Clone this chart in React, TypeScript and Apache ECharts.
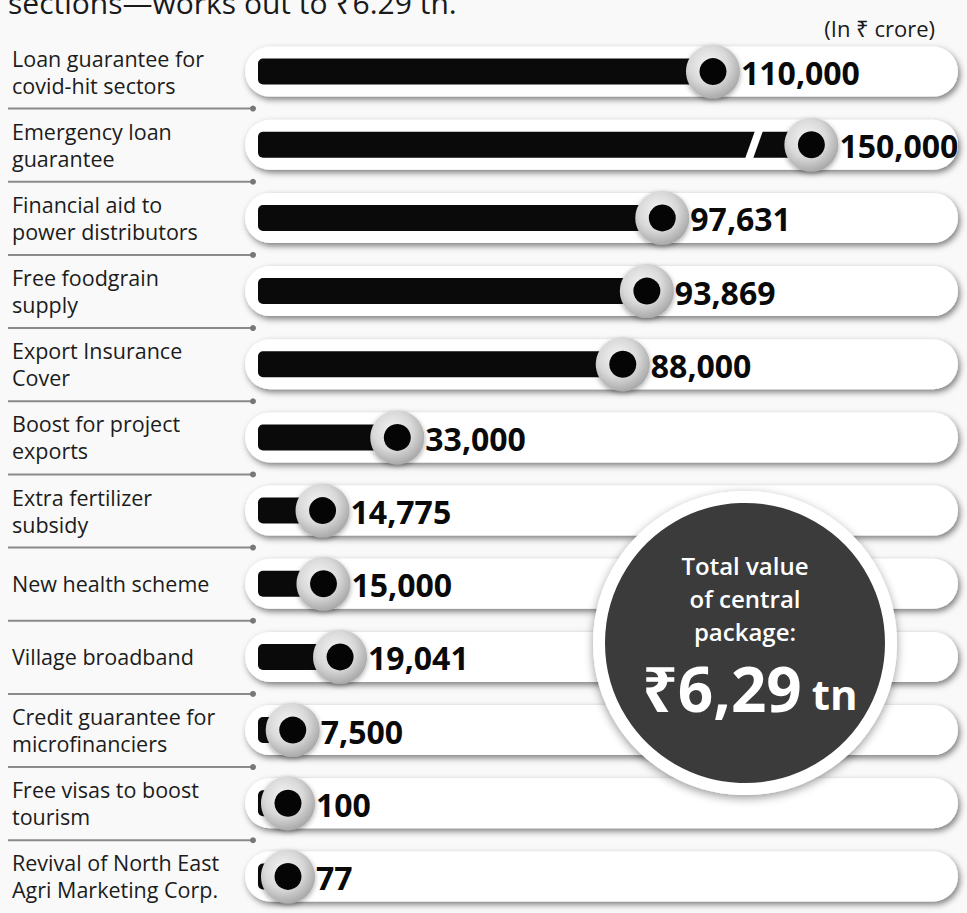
import React, { useEffect, useRef } from "react";
import * as echarts from "echarts";

const categories = [
  "Loan guarantee for\ncovid-hit sectors",
  "Emergency loan\nguarantee",
  "Financial aid to\npower distributors",
  "Free foodgrain\nsupply",
  "Export Insurance\nCover",
  "Boost for project\nexports",
  "Extra fertilizer\nsubsidy",
  "New health scheme",
  "Village broadband",
  "Credit guarantee for\nmicrofinanciers",
  "Free visas to boost\ntourism",
  "Revival of North East\nAgri Marketing Corp.",
];
const values = [110000, 150000, 97631, 93869, 88000, 33000, 14775, 15000, 19041, 7500, 100, 77];
const axisBreak = { start: 120000, end: 136000 };
const titleText = "sections\u2014works out to \u20b96.29 tn.";
const unitText = "(In \u20b9 crore)";
const totalLines = ["Total value", "of central", "package:"];
const totalValue = "\u20b96,29";
const totalUnit = "tn";

const FONT = '"Open Sans", "Noto Sans", sans-serif';

export default function App() {
  const ref = useRef<HTMLDivElement>(null);
  useEffect(() => {
    if (!ref.current) return;
    const chart = echarts.init(ref.current, null, { renderer: "svg" });
    const n = categories.length;
    const Z = 100;
    const option: any = {
      animation: false,
      backgroundColor: "#f9f9f9",
      grid: { left: 262, top: 35, width: 697, height: 888 },
      xAxis: { type: "value", min: 0, max: 170000, show: false },
      yAxis: {
        type: "category",
        data: categories,
        inverse: true,
        axisLine: { show: false },
        axisTick: { show: false },
        splitLine: { show: false },
        axisLabel: {
          align: "left",
          margin: 250,
          fontSize: 21.5,
          lineHeight: 27,
          color: "#1c1c1c",
          fontFamily: FONT,
        },
      },
      series: [
        {
          type: "custom",
          z: 2,
          encode: { x: 0, y: 1 },
          data: values.map((v, i) => [v, i]),
          renderItem: (params: any, api: any) => {
            const v = api.value(0);
            const i = api.value(1);
            const [x0, cy] = api.coord([0, i]);
            const dv = v > axisBreak.end ? v - (axisBreak.end - axisBreak.start) : v;
            const [kx] = api.coord([dv, i]);
            const barLeft = x0 - 4;
            const knobX = Math.max(kx, barLeft + 30);
            const pillLeft = barLeft - 13;
            const pillRight = 958;
            const children: any[] = [
              {
                type: "rect",
                shape: { x: pillLeft, y: cy - 25, width: pillRight - pillLeft, height: 50, r: 25 },
                style: {
                  fill: "#ffffff",
                  shadowBlur: 6,
                  shadowColor: "rgba(0,0,0,0.5)",
                  shadowOffsetX: 2,
                  shadowOffsetY: 3,
                },
              },
              {
                type: "rect",
                shape: { x: barLeft, y: cy - 13, width: knobX - barLeft, height: 26, r: [5, 0, 0, 5] },
                style: { fill: "#0a0a0a" },
              },
            ];
            if (v > axisBreak.end) {
              const [sx] = api.coord([axisBreak.start, i]);
              children.push({
                type: "polygon",
                shape: {
                  points: [
                    [sx + 1, cy - 14],
                    [sx + 9, cy - 14],
                    [sx - 1, cy + 14],
                    [sx - 9, cy + 14],
                  ],
                },
                style: { fill: "#ffffff" },
              });
            }
            children.push(
              {
                type: "circle",
                shape: { cx: knobX, cy, r: 27 },
                style: {
                  fill: new echarts.graphic.RadialGradient(0.42, 0.38, 0.65, [
                    { offset: 0, color: "#f5f5f5" },
                    { offset: 0.55, color: "#d9d9d9" },
                    { offset: 1, color: "#a5a5a5" },
                  ]),
                  shadowBlur: 5,
                  shadowColor: "rgba(0,0,0,0.35)",
                  shadowOffsetY: 2,
                },
              },
              {
                type: "circle",
                shape: { cx: knobX, cy, r: 13.5 },
                style: { fill: "#050505" },
              },
              {
                type: "text",
                style: {
                  x: knobX + 28,
                  y: cy + 1,
                  text: v.toLocaleString("en-US"),
                  fill: "#0a0a0a",
                  font: `bold 32px ${FONT}`,
                  verticalAlign: "middle",
                  align: "left",
                },
              }
            );
            if (i < n - 1) {
              const sy = cy + 37;
              children.push(
                {
                  type: "line",
                  shape: { x1: 8, y1: sy, x2: 253, y2: sy },
                  style: { stroke: "#8a8a8a", lineWidth: 2 },
                },
                {
                  type: "circle",
                  shape: { cx: 253, cy: sy, r: 3 },
                  style: { fill: "#777777" },
                }
              );
            }
            return { type: "group", children };
          },
        },
      ],
      graphic: [
        {
          type: "text",
          left: 8,
          top: -13,
          style: { text: titleText, font: `30px ${FONT}`, fill: "#1a1a1a" },
        },
        {
          type: "text",
          right: 32,
          top: 17,
          style: { text: unitText, font: `22px ${FONT}`, fill: "#1a1a1a" },
        },
        {
          type: "circle",
          z: Z,
          shape: { cx: 745, cy: 643, r: 146 },
          style: {
            fill: "#3a3a3a",
            stroke: "#ffffff",
            lineWidth: 12,
            shadowBlur: 10,
            shadowColor: "rgba(0,0,0,0.4)",
            shadowOffsetY: 3,
          },
        },
        {
          type: "text",
          z: Z + 1,
          style: {
            x: 745,
            y: 598,
            text: totalLines.join("\n"),
            font: `600 24px ${FONT}`,
            lineHeight: 33,
            fill: "#ffffff",
            align: "center",
            verticalAlign: "middle",
          },
        },
        {
          type: "text",
          z: Z + 1,
          style: {
            x: 750,
            y: 688,
            text: `{a|${totalValue}}{b|${totalUnit}}`,
            fill: "#ffffff",
            align: "center",
            verticalAlign: "middle",
            rich: {
              a: { fontSize: 62, fontWeight: "bold", fontFamily: FONT, fill: "#ffffff", color: "#ffffff" },
              b: { fontSize: 42, fontWeight: "bold", fontFamily: FONT, fill: "#ffffff", color: "#ffffff", padding: [10, 0, 0, 10] },
            },
          },
        },
      ],
    };
    chart.setOption(option);
    return () => chart.dispose();
  }, []);
  return (
    <div
      ref={ref}
      style={{ position: "fixed", left: 0, top: 0, width: 967, height: 913 }}
    />
  );
}
